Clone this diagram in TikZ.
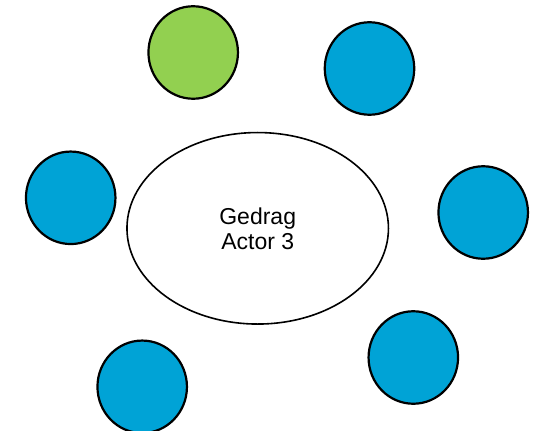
\documentclass[tikz,border=0pt]{standalone}
\usepackage{fontspec}
\setmainfont{Liberation Sans}
\usetikzlibrary{shapes.geometric}
\definecolor{actorblue}{RGB}{0,163,214}
\definecolor{actorgreen}{RGB}{146,208,80}
\tikzset{
  actor/.style={ellipse, draw=black, line width=2.2pt, inner sep=0pt,
    minimum width=89.5pt, minimum height=92.5pt, fill=actorblue},
  core/.style={ellipse, draw=black, line width=1.6pt, inner sep=0pt,
    minimum width=261.5pt, minimum height=191.5pt, fill=white,
    align=center, font=\fontsize{23pt}{25pt}\selectfont}
}
\begin{document}
\begin{tikzpicture}[x=1pt,y=-1pt]
  \useasboundingbox (0,0) rectangle (534,430);
  \node[core] (gedrag) at (257.7,228.3) {Gedrag\\Actor 3};
  \node[actor, fill=actorgreen] (a1) at (193.2,52.5) {};
  \node[actor] (a2) at (369.5,68.5) {};
  \node[actor] (a3) at (70.7,197.8) {};
  \node[actor] (a4) at (483.2,212.5) {};
  \node[actor] (a5) at (413.3,357.5) {};
  \node[actor] (a6) at (142.2,386.8) {};
\end{tikzpicture}
\end{document}
